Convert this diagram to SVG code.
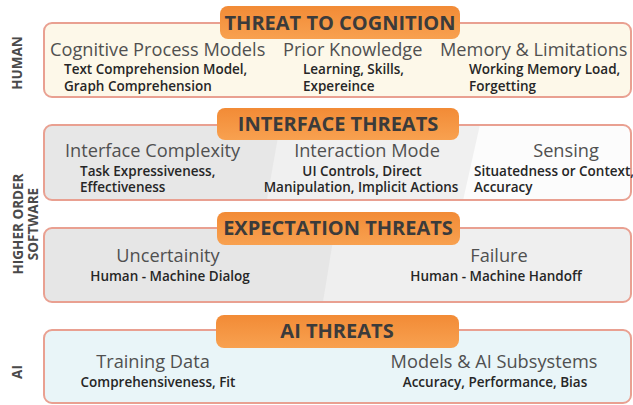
<svg xmlns="http://www.w3.org/2000/svg" width="633" height="405" viewBox="0 0 633 405">
<defs>
<linearGradient id="badgeGrad" x1="0" y1="0" x2="0" y2="1">
<stop offset="0" stop-color="#f28b36"/>
<stop offset="1" stop-color="#f8a150"/>
</linearGradient>
<clipPath id="clipIf"><rect x="44" y="125" width="587" height="75" rx="8"/></clipPath>
<clipPath id="clipEx"><rect x="44" y="228" width="587" height="74" rx="8"/></clipPath>
</defs>
<style>
.box{stroke:#e9a091;stroke-width:2;}
.badge{fill:url(#badgeGrad);}
.bt{font-family:"Open Sans","Noto Sans",sans-serif;font-weight:700;font-size:20px;fill:#3b3b3b;text-anchor:middle;}
.h{font-family:"Open Sans","Noto Sans",sans-serif;font-weight:400;font-size:18.2px;fill:#505050;}
.s{font-family:"Open Sans","Noto Sans",sans-serif;font-weight:600;font-size:13.5px;fill:#262626;}
.m{text-anchor:middle;}
.side{font-family:"Open Sans","Noto Sans",sans-serif;font-weight:700;font-size:13.5px;fill:#4a4a4a;text-anchor:middle;}
</style>
<rect width="633" height="405" fill="#ffffff"/>
<g id="side-labels">
<text class="side" transform="translate(22,63) rotate(-90)">HUMAN</text>
<text class="side" transform="translate(23,224) rotate(-90)">HIGHER ORDER</text>
<text class="side" transform="translate(38,224) rotate(-90)">SOFTWARE</text>
<text class="side" transform="translate(22,372) rotate(-90)">AI</text>
</g>
<g id="human">
<rect class="box" x="44" y="23" width="587" height="74" rx="8" fill="#fdf8e9"/>
<rect class="badge" x="220" y="6" width="240" height="33" rx="8"/>
<text class="bt" x="340" y="30">THREAT TO COGNITION</text>
<text class="h" x="50" y="56">Cognitive Process Models</text>
<text class="s" x="64" y="74">Text Comprehension Model,</text>
<text class="s" x="64" y="91">Graph Comprehension</text>
<text class="h" x="283" y="56">Prior Knowledge</text>
<text class="s" x="303" y="74">Learning, Skills,</text>
<text class="s" x="303" y="91">Expereince</text>
<text class="h" x="440" y="56">Memory &amp; Limitations</text>
<text class="s" x="469" y="74">Working Memory Load,</text>
<text class="s" x="469" y="91">Forgetting</text>
</g>
<g id="interface">
<g clip-path="url(#clipIf)">
<rect x="44" y="125" width="587" height="75" fill="#fcfcfc"/>
<polygon points="40,120 481,120 462,205 40,205" fill="#f0f0f0"/>
<polygon points="40,120 281,120 266,205 40,205" fill="#e7e7e7"/>
</g>
<rect class="box" x="44" y="125" width="587" height="75" rx="8" fill="none"/>
<rect class="badge" x="217" y="108" width="242" height="32" rx="8"/>
<text class="bt" x="338" y="131">INTERFACE THREATS</text>
<text class="h" x="65" y="157">Interface Complexity</text>
<text class="s" x="80" y="175.5">Task Expressiveness,</text>
<text class="s" x="80" y="192">Effectiveness</text>
<text class="h m" x="367" y="157">Interaction Mode</text>
<text class="s m" x="362" y="175.5">UI Controls, Direct</text>
<text class="s m" x="361" y="192">Manipulation, Implicit Actions</text>
<text class="h m" x="566" y="157">Sensing</text>
<text class="s" x="474" y="175.5">Situatedness or Context,</text>
<text class="s" x="474" y="192">Accuracy</text>
</g>
<g id="expectation">
<g clip-path="url(#clipEx)">
<rect x="44" y="228" width="587" height="74" fill="#efefef"/>
<polygon points="40,222 336,222 322,308 40,308" fill="#e6e6e6"/>
</g>
<rect class="box" x="44" y="228" width="587" height="74" rx="8" fill="none"/>
<rect class="badge" x="217" y="212" width="243" height="33" rx="8"/>
<text class="bt" x="338" y="235">EXPECTATION THREATS</text>
<text class="h m" x="168" y="262">Uncertainity</text>
<text class="s m" x="170" y="281">Human - Machine Dialog</text>
<text class="h m" x="499" y="262">Failure</text>
<text class="s m" x="496" y="281">Human - Machine Handoff</text>
</g>
<g id="ai">
<rect class="box" x="44" y="330" width="587" height="73" rx="8" fill="#e9f5f8"/>
<rect class="badge" x="216" y="315" width="243" height="33" rx="8"/>
<text class="bt" x="337" y="338">AI THREATS</text>
<text class="h m" x="153" y="368">Training Data</text>
<text class="s m" x="158" y="387">Comprehensiveness, Fit</text>
<text class="h m" x="494" y="368">Models &amp; AI Subsystems</text>
<text class="s m" x="495" y="387">Accuracy, Performance, Bias</text>
</g>
<g id="connectors"/>
</svg>
